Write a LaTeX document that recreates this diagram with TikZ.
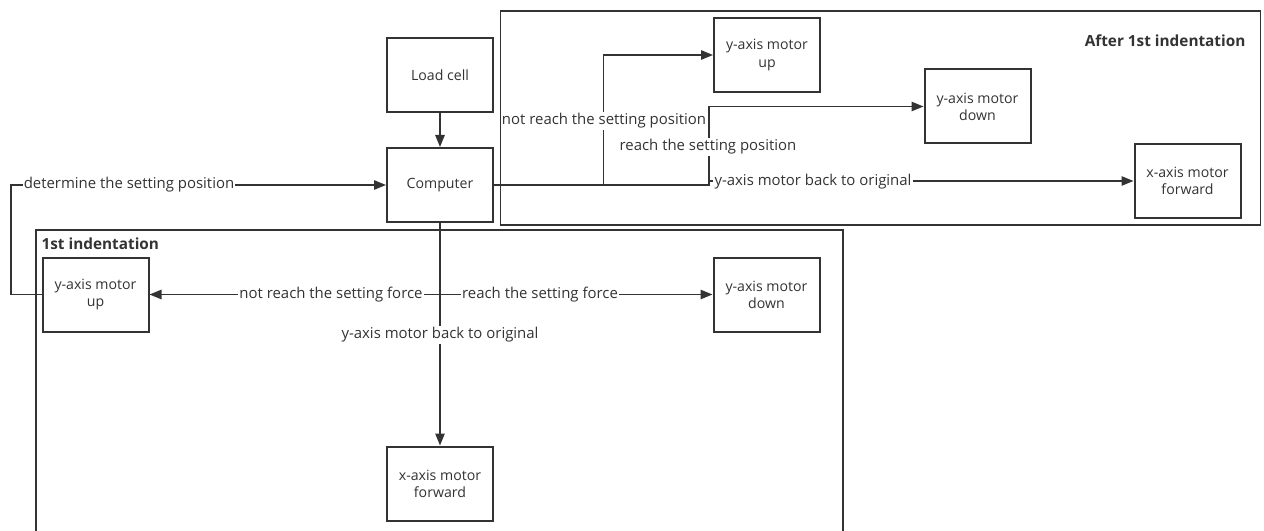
\documentclass[tikz,border=0pt]{standalone}
\usepackage{fontspec}
\setmainfont{Open Sans}
\usetikzlibrary{arrows.meta}
\definecolor{ink}{HTML}{333333}
\begin{document}
\begin{tikzpicture}[x=0.75pt,y=-0.75pt,
  txt/.style={text=ink, font=\fontsize{11.2}{13}\selectfont},
  box/.style={text=ink, font=\fontsize{10.6}{12.9}\selectfont,
    draw=ink, line width=1.5pt, minimum width=79.5pt,
    minimum height=55.5pt, align=center, inner sep=1pt},
  conn/.style={draw=ink, line width=1.3pt,
    -{Triangle[length=9pt,width=7pt]}},
  lbl/.style={txt, fill=white, inner sep=0.8pt},
  frame/.style={draw=ink, line width=1.2pt},
  title/.style={text=ink, font=\fontsize{11.5}{12}\selectfont\bfseries}]
\useasboundingbox (0,0) rectangle (1264,531);
\fill[white] (0,0) rectangle (1264,531);

% group frames
\draw[frame] (36,531) -- (36,230) -- (843,230) -- (843,531);
\draw[frame] (500.5,11) rectangle (1260.5,225);
\node[title, anchor=west, inner sep=1pt] (t1) at (40,244) {1st indentation};
\node[title, anchor=east, inner sep=1pt] (t2) at (1247,41) {After 1st indentation};

% blocks
\node[box] (load) at (440,75)    {Load cell};
\node[box] (comp) at (440,185)   {Computer};
\node[box] (yup1) at (95.5,294.5) {y-axis motor\\up};
\node[box] (ydn1) at (766.5,294.5) {y-axis motor\\down};
\node[box] (xf1)  at (440,483.5) {x-axis motor\\forward};
\node[box] (yup2) at (767,55)    {y-axis motor\\up};
\node[box] (ydn2) at (977.5,106.5) {y-axis motor\\down};
\node[box] (xf2)  at (1187.5,181) {x-axis motor\\forward};

% connectors
\draw[conn] (load) -- (comp);
\draw[conn] (yup1.west) -- (11,294.5) |- (comp.west);
\draw[conn] (comp.south) -- (xf1.north);
\draw[conn] (comp.south) |- (yup1.east);
\draw[conn] (comp.south) |- (ydn1.west);
\draw[conn] (comp.east) -- (603.5,185) |- (yup2.west);
\draw[conn] (comp.east) -- (709,185) |- (ydn2.west);
\draw[conn] (comp.east) -- (709,185) |- (xf2.west);

% connector labels
\node[lbl] (l1) at (129,185)   {determine the setting position};
\node[lbl] (l2) at (331,294.5) {not reach the setting force};
\node[lbl] (l3) at (540,294.5) {reach the setting force};
\node[lbl] (l4) at (440,335)   {y-axis motor back to original};
\node[lbl] (l5) at (604,121)   {not reach the setting position};
\node[lbl] (l6) at (708,147)   {reach the setting position};
\node[lbl] (l7) at (813,182)   {y-axis motor back to original};
\end{tikzpicture}
\end{document}
